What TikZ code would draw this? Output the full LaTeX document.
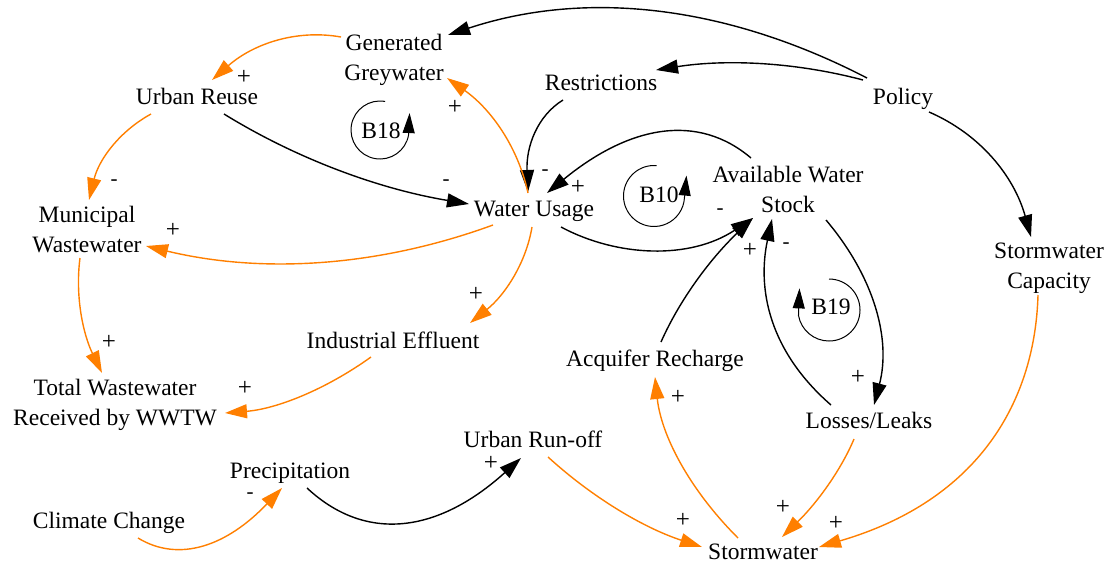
\documentclass[tikz,border=0pt]{standalone}
\usepackage{fontspec}
\setmainfont{Liberation Serif}
\usetikzlibrary{arrows.meta}
\definecolor{linkorange}{RGB}{255,127,0}
\newcommand\varfont{\fontsize{23.5}{30}\selectfont}
\newcommand\plusfont{\fontsize{25}{30}\selectfont}
\newcommand\minusfont{\fontsize{21}{26}\selectfont}
\newcommand\lstrut{\rule[-4pt]{0pt}{19pt}}
\begin{document}
\begin{tikzpicture}[x=1pt,y=-1pt,
  var/.style={font=\varfont, align=center, inner sep=0pt},
  looplbl/.style={font=\varfont, inner sep=0pt},
  plussign/.style={font=\plusfont, inner sep=0pt},
  minussign/.style={font=\minusfont, inner sep=0pt},
  link/.style={line width=1.4pt, -{Triangle[length=22pt,width=14pt]}},
  blk/.style={link, draw=black},
  org/.style={link, draw=linkorange},
  loopl/.style={line width=1pt, draw=black, -{Triangle[length=20pt,width=12pt]}}]

\useasboundingbox (0,0) rectangle (1110,563);

% variables
\node[var] (gg)  at (394,59.5)  {\lstrut Generated\\\lstrut Greywater};
\node[var] (ur)  at (197,98.5)  {\lstrut Urban Reuse};
\node[var] (re)  at (601,84.5)  {\lstrut Restrictions};
\node[var] (po)  at (903,98.5)  {\lstrut Policy};
\node[var] (mw)  at (87,231.5)  {\lstrut Municipal\\\lstrut Wastewater};
\node[var] (wu)  at (534,211.5) {\lstrut Water Usage};
\node[var] (aws) at (788,191.5) {\lstrut Available Water\\\lstrut Stock};
\node[var] (sc)  at (1049,268.5){\lstrut Stormwater\\\lstrut Capacity};
\node[var] (ie)  at (393,342.5) {\lstrut Industrial Effluent};
\node[var] (tw)  at (115,404.5) {\lstrut Total Wastewater\\\lstrut Received by WWTW};
\node[var] (ar)  at (655,360.5) {\lstrut Acquifer Recharge};
\node[var] (ll)  at (869,422.5) {\lstrut Losses/Leaks};
\node[var] (uro) at (533,441.5) {\lstrut Urban Run-off};
\node[var] (pr)  at (290,473.5) {\lstrut Precipitation};
\node[var] (cc)  at (109,522.5) {\lstrut Climate Change};
\node[var] (sw)  at (763,553.5) {\lstrut Stormwater};

% black links
\draw[blk] ([shift={(-36,-20.5)}]po.center) .. controls (724,4) and (584,-10) .. ([shift={(54,-24.5)}]gg.center);
\draw[blk] ([shift={(-40,-18.5)}]po.center) .. controls (795,62) and (726,59) .. ([shift={(55,-14.5)}]re.center);
\draw[blk] ([shift={(26,13.5)}]po.center) .. controls (980,134) and (1014,176) .. ([shift={(-18,-31.5)}]sc.center);
\draw[blk] ([shift={(-38,15.5)}]re.center) .. controls (537,116) and (526,147) .. ([shift={(-6,-19.5)}]wu.center);
\draw[blk] ([shift={(-37,-33.5)}]aws.center) .. controls (698,113) and (630,125) .. ([shift={(13,-18.5)}]wu.center);
\draw[blk] ([shift={(27,15.5)}]wu.center) .. controls (617,257) and (690,260) .. ([shift={(-35,26.5)}]aws.center);
\draw[blk] ([shift={(27,15.5)}]ur.center) .. controls (297,159) and (379,189) .. ([shift={(-65,-7.5)}]wu.center);
\draw[blk] ([shift={(38,28.5)}]aws.center) .. controls (875,278) and (891,340) .. ([shift={(5,-17.5)}]ll.center);
\draw[blk] ([shift={(-38,-17.5)}]ll.center) .. controls (769,351) and (757,289) .. ([shift={(-16,27.5)}]aws.center);
\draw[blk] ([shift={(6,-18.5)}]ar.center) .. controls (680,299) and (711,258) .. ([shift={(-35,26.5)}]aws.center);
\draw[blk] ([shift={(17,14.5)}]pr.center) .. controls (366,543) and (438,533) .. ([shift={(-12,16.5)}]uro.center);

% orange links
\draw[org] ([shift={(-53,-22.5)}]gg.center) .. controls (296,29) and (253,44) .. ([shift={(15,-18.5)}]ur.center);
\draw[org] ([shift={(-6,-18.5)}]wu.center) .. controls (518,147) and (491,109) .. ([shift={(53,18.5)}]gg.center);
\draw[org] ([shift={(-46,15.5)}]ur.center) .. controls (120,131) and (99,159) .. ([shift={(2,-31.5)}]mw.center);
\draw[org] ([shift={(-41,13.5)}]wu.center) .. controls (378,267) and (262,274) .. ([shift={(59,14.5)}]mw.center);
\draw[org] ([shift={(-2,15.5)}]wu.center) .. controls (526,263) and (505,295) .. ([shift={(77,-19.5)}]ie.center);
\draw[org] ([shift={(-7,26.5)}]mw.center) .. controls (75,296) and (83,334) .. ([shift={(-13,-31.5)}]tw.center);
\draw[org] ([shift={(-22,14.5)}]ie.center) .. controls (325,390) and (276,409) .. ([shift={(110,8.5)}]tw.center);
\draw[org] ([shift={(29,15.5)}]cc.center) .. controls (179,563) and (227,546) .. ([shift={(-8,14.5)}]pr.center);
\draw[org] ([shift={(15,15.5)}]uro.center) .. controls (593,498) and (644,528) .. ([shift={(-61,-6.5)}]sw.center);
\draw[org] ([shift={(-25,-15.5)}]sw.center) .. controls (688,488) and (661,434) .. ([shift={(0,16.5)}]ar.center);
\draw[org] ([shift={(-15,16.5)}]ll.center) .. controls (841,470) and (817,503) .. ([shift={(19,-16.5)}]sw.center);
\draw[org] ([shift={(-11,26.5)}]sc.center) .. controls (1035,400) and (980,500) .. ([shift={(56,-6.5)}]sw.center);

% link polarities
\node[minussign] (p1)  at (545,173) {-};
\node[plussign]  (p2)  at (578,187) {+};
\node[minussign] (p3)  at (720,212) {-};
\node[plussign]  (p4)  at (750,250) {+};
\node[minussign] (p5)  at (786,246) {-};
\node[plussign]  (p6)  at (858,377) {+};
\node[minussign] (p7)  at (446,183) {-};
\node[plussign]  (p8)  at (491,463) {+};
\node[plussign]  (p9)  at (244,77)  {+};
\node[plussign]  (p10) at (455,107) {+};
\node[minussign] (p11) at (114,183) {-};
\node[plussign]  (p12) at (173,230) {+};
\node[plussign]  (p13) at (476,294) {+};
\node[plussign]  (p14) at (109,342) {+};
\node[plussign]  (p15) at (245,388) {+};
\node[minussign] (p16) at (250,496) {-};
\node[plussign]  (p17) at (683,520) {+};
\node[plussign]  (p18) at (678,397) {+};
\node[plussign]  (p19) at (783,507) {+};
\node[plussign]  (p20) at (836,523) {+};

% feedback loop markers
\node[looplbl] (b18) at (381,131) {B18};
\draw[loopl] ([shift={(-80:29)}]380,130) arc[start angle=-80, end angle=-350, radius=29] -- ++(1,-22);
\node[looplbl] (b10) at (659,195) {B10};
\draw[loopl] ([shift={(-85:30.5)}]654,196) arc[start angle=-85, end angle=-357, radius=30.5] -- ++(2,-22);
\node[looplbl] (b19) at (831,307) {B19};
\draw[loopl] ([shift={(-90:31)}]829,310) arc[start angle=-90, end angle=170, radius=31] -- ++(1,-27);

\end{tikzpicture}
\end{document}
